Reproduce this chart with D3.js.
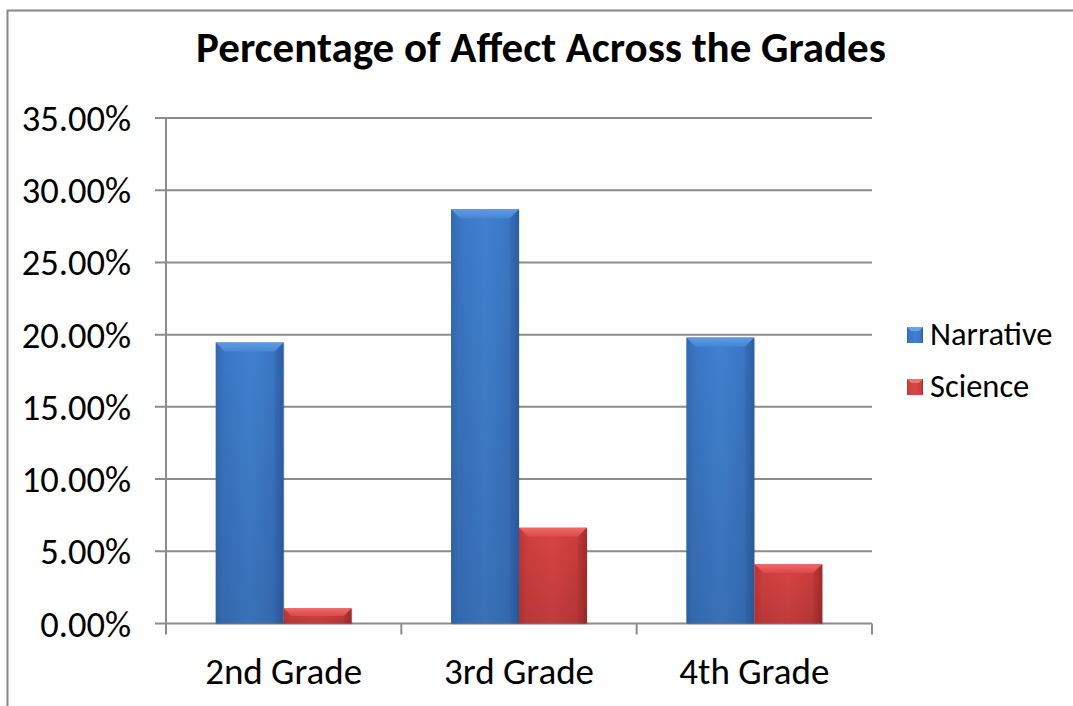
<!DOCTYPE html>
<html><head><meta charset="utf-8">
<script src="https://cdn.jsdelivr.net/npm/d3@7"></script>
<style>body{margin:0;background:#fff;}svg{display:block;}</style>
</head><body>
<svg id="c" width="1073" height="706"></svg>
<script>
const categories = ["2nd Grade", "3rd Grade", "4th Grade"];
const seriesNames = ["Narrative", "Science"];
const narrative = [0.1946, 0.2868, 0.1980];
const science = [0.0105, 0.0663, 0.0412];
const yTicks = [0, 0.05, 0.10, 0.15, 0.20, 0.25, 0.30, 0.35];
const title = "Percentage of Affect Across the Grades";

const svg = d3.select("#c");
const font = "Carlito, Calibri, 'Open Sans', Lato, sans-serif";
const L = 166, R = 872, T = 118, B = 623.5;

// outer border
svg.append("path").attr("d", `M7.5,706 V10.5 H1073`).attr("fill","none").attr("stroke","#868686").attr("stroke-width",2);

const x = d3.scaleBand().domain(categories).range([L, R]).paddingInner(0.4225).paddingOuter(0.21125);
const y = d3.scaleLinear().domain([0, 0.35]).range([B, T]);
const xs = d3.scaleBand().domain(seriesNames).range([0, x.bandwidth()]);

const defs = svg.append("defs");
function grad(id, stops){
  const g = defs.append("linearGradient").attr("id", id).attr("x1","0").attr("x2","1").attr("y1","0").attr("y2","0");
  stops.forEach(s=>g.append("stop").attr("offset",s[0]).attr("stop-color",s[1]));
}
grad("gB", [[0,"#3166ae"],[0.12,"#3a76c4"],[0.5,"#4181d0"],[0.88,"#3a75c2"],[1,"#2e60a5"]]);
grad("gR", [[0,"#b63434"],[0.12,"#d03f3f"],[0.5,"#d94444"],[0.88,"#cb3c3c"],[1,"#a52c2c"]]);
const gv = defs.append("linearGradient").attr("id","gV").attr("x1","0").attr("x2","0").attr("y1","0").attr("y2","1");
gv.append("stop").attr("offset",0).attr("stop-color","#000").attr("stop-opacity",0);
gv.append("stop").attr("offset",1).attr("stop-color","#000").attr("stop-opacity",0.12);
function tgrad(id, c1, c2){
  const g = defs.append("linearGradient").attr("id", id).attr("x1","0").attr("x2","0").attr("y1","0").attr("y2","1");
  g.append("stop").attr("offset",0).attr("stop-color",c1);
  g.append("stop").attr("offset",1).attr("stop-color",c2);
}
tgrad("tB","#5f9be3","#4686d4");
tgrad("tR","#ee6a6a","#dc4848");

// gridlines
const grid = svg.append("g");
grid.selectAll("line").data(yTicks).join("line")
  .attr("x1", 155).attr("x2", R).attr("y1", d=>y(d)).attr("y2", d=>y(d))
  .attr("stroke","#8c8c8c").attr("stroke-width",2);

// y axis line
svg.append("line").attr("x1",L).attr("x2",L).attr("y1",T).attr("y2",B).attr("stroke","#8c8c8c").attr("stroke-width",2);
// x ticks
svg.append("g").selectAll("line").data([L].concat(categories.slice(1).map(c=>x(c)-x.step()*x.paddingInner()/2)).concat([R])).join("line")
  .attr("x1",d=>d).attr("x2",d=>d).attr("y1",B).attr("y2",B+11).attr("stroke","#8c8c8c").attr("stroke-width",2);

// y labels
svg.append("g").selectAll("text").data(yTicks).join("text")
  .attr("x", 131).attr("y", d=>y(d)+13).attr("text-anchor","end")
  .attr("font-family",font).attr("font-size",36.5).attr("fill","#000")
  .text(d=>d3.format(".2%")(d));

// x labels
svg.append("g").selectAll("text").data(categories).join("text")
  .attr("x", d=>x(d)+x.bandwidth()/2).attr("y", 684).attr("text-anchor","middle")
  .attr("font-family",font).attr("font-size",37).attr("fill","#000").text(d=>d);

// bars
const data = [];
categories.forEach((c,i)=>{
  data.push({c, s:"Narrative", v:narrative[i]});
  data.push({c, s:"Science", v:science[i]});
});
const bevel = 9;
const bars = svg.append("g").selectAll("g").data(data).join("g");
bars.each(function(d){
  const g = d3.select(this);
  const x0 = x(d.c)+xs(d.s), w = xs.bandwidth(), y0 = y(d.v), h = B - y0;
  const isB = d.s==="Narrative";
  g.append("rect").attr("x",x0+1).attr("y",y0+1).attr("width",w).attr("height",h).attr("fill","#000").attr("opacity",0.1);
  g.append("rect").attr("x",x0).attr("y",y0).attr("width",w).attr("height",h).attr("fill",isB?"url(#gB)":"url(#gR)");
  g.append("rect").attr("x",x0).attr("y",y0).attr("width",w).attr("height",h).attr("fill","url(#gV)");
  const bv = Math.min(bevel, h/2);
  g.append("path").attr("d",`M${x0},${y0} H${x0+w} L${x0+w-bv},${y0+bv} H${x0+bv} Z`).attr("fill",isB?"url(#tB)":"url(#tR)");
  g.append("path").attr("d",`M${x0},${y0} L${x0+bv},${y0+bv} V${B} H${x0} Z`).attr("fill",isB?"#3a72bd":"#c83a3a").attr("opacity",0.25);
  g.append("path").attr("d",`M${x0+w},${y0} L${x0+w-bv},${y0+bv} V${B} H${x0+w} Z`).attr("fill",isB?"#2b5b9e":"#a02a2a").attr("opacity",0.3);
});

// title
svg.append("text").attr("x", 541).attr("y", 62).attr("text-anchor","middle")
  .attr("font-family",font).attr("font-weight","bold").attr("font-size",43).attr("fill","#000").text(title);

// legend
const leg = svg.append("g");
seriesNames.forEach((s,i)=>{
  const yy = 327 + i*52;
  leg.append("rect").attr("x",907).attr("y",yy).attr("width",16).attr("height",16).attr("fill",i===0?"url(#gB)":"url(#gR)");
  leg.append("path").attr("d",`M907,${yy} H923 L919,${yy+4} H911 Z`).attr("fill",i===0?"#6aa4ea":"#f07272");
  leg.append("text").attr("x",930).attr("y",yy+18).attr("font-family",font).attr("font-size",32.5).attr("fill","#000").text(s);
});
</script>
</body></html>
